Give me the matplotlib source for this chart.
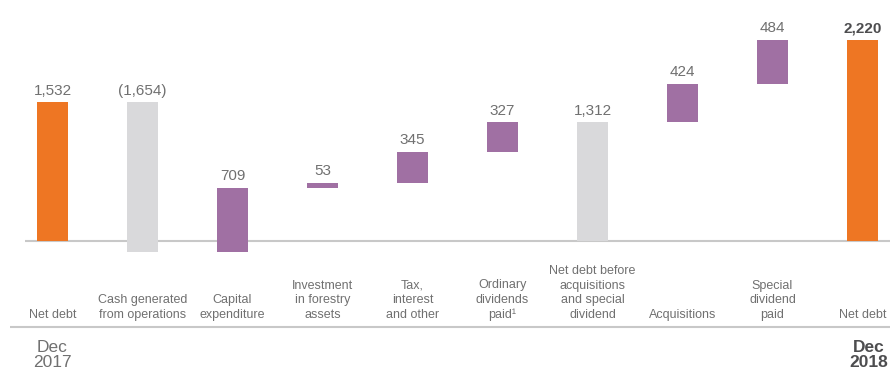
import numpy as np
import matplotlib.pyplot as plt
from matplotlib import transforms

plt.rcParams['font.family'] = ['Liberation Sans', 'DejaVu Sans']

# ---------------------------------------------------------------
# Data

categories = ["Net debt", "Cash generated\nfrom operations", "Capital\nexpenditure",
              "Investment\nin forestry\nassets", "Tax,\ninterest\nand other",
              "Ordinary\ndividends\npaid\u00b9", "Net debt before\nacquisitions\nand special\ndividend",
              "Acquisitions", "Special\ndividend\npaid", "Net debt"]
values = [1532, -1654, 709, 53, 345, 327, 1312, 424, 484, 2220]
kinds = ["total", "delta", "delta", "delta", "delta", "delta", "subtotal", "delta", "delta", "total"]
value_labels = ["1,532", "(1,654)", "709", "53", "345", "327", "1,312", "424", "484", "2,220"]
period_labels = ["Dec\n2017", "Dec\n2018"]

ORANGE = "#EE7623"
GREY = "#D9D9DB"
PURPLE = "#A070A3"
TEXT = "#707070"
DARK = "#4D4D4F"
LINE = "#C8C8C8"

# bottoms / heights for the waterfall
bottoms, heights, colors, tops = [], [], [], []
running = 0
for i, (v, k) in enumerate(zip(values, kinds)):
    if k == "total":
        b, h = 0, v
        running = v
        c = ORANGE
    elif k == "subtotal":
        b, h = 0, v
        c = GREY
    else:
        if v < 0:
            b, h = running + v, -v
            c = GREY
        else:
            b, h = running, v
            c = PURPLE
        running += v
    bottoms.append(b); heights.append(h); colors.append(c); tops.append(b + h)

x = np.arange(len(values))

# ---------------------------------------------------------------
# Plot

fig = plt.figure(figsize=(8.9, 3.69), dpi=100)
ax = fig.add_axes([0, 0, 1, 1])
ax.set_xlim(-0.5833, 9.3056)
ax.set_ylim(-1414, 2663)
ax.axis("off")

ax.bar(x, heights, bottom=bottoms, width=0.345, color=colors, zorder=2)

# baseline and lower rule
ax.plot([-0.306, 9.31], [0, 0], color=LINE, lw=1.5, zorder=1, solid_capstyle="butt")
ax.plot([-0.472, 9.31], [-950, -950], color=LINE, lw=1.5, zorder=1, solid_capstyle="butt")

for i in x:
    last = i == len(x) - 1
    ax.annotate(value_labels[i], xy=(i, tops[i]), xytext=(0, 5.5), textcoords="offset points",
                ha="center", va="baseline", fontsize=11,
                color=DARK if last else TEXT, fontweight="bold" if last else "normal")

tr = transforms.blended_transform_factory(ax.transData, ax.transAxes)
for i, lab in enumerate(categories):
    ax.text(i, 1 - 318 / 369, lab, transform=tr, ha="center", va="baseline",
            fontsize=9, color=TEXT, linespacing=1.3)

ax.text(0, 1 - 367 / 369, period_labels[0], transform=tr, ha="center", va="baseline",
        fontsize=12.5, color=TEXT, linespacing=1.0)
ax.text(9.065, 1 - 367 / 369, period_labels[1], transform=tr, ha="center", va="baseline",
        fontsize=12.5, color=DARK, fontweight="bold", linespacing=1.0)

fig.savefig("out.png", dpi=100)
